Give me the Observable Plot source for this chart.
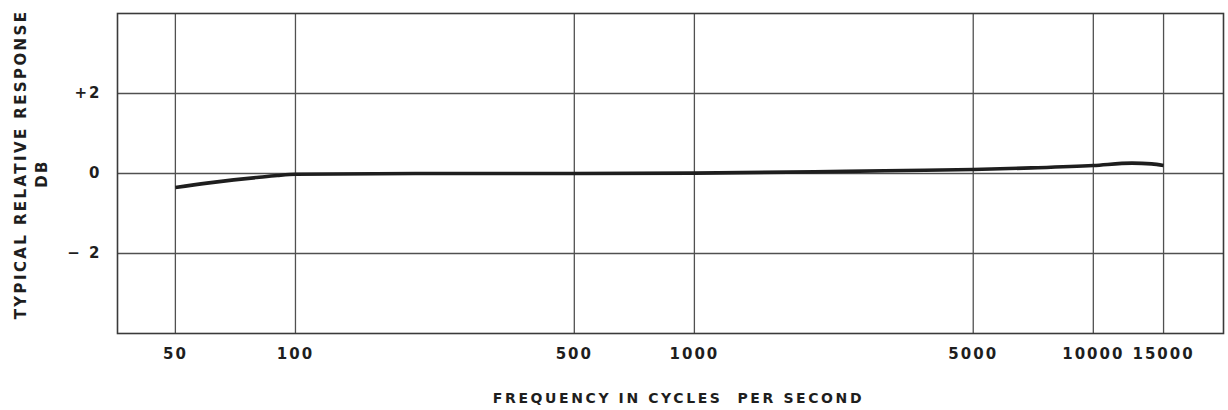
<!DOCTYPE html>
<html>
<head>
<meta charset="utf-8">
<script src="https://cdn.jsdelivr.net/npm/d3@7"></script>
<script src="https://cdn.jsdelivr.net/npm/@observablehq/plot@0.6"></script>
<style>
  html, body { margin: 0; padding: 0; background: #fff; }
  .chart { font-family: "DejaVu Sans", sans-serif; }
  .chart g[aria-label="x-axis tick label"] text { letter-spacing: 2px; }
  .chart g[aria-label="y-axis tick label"] text { letter-spacing: 2px; }
  .chart .lbl text { letter-spacing: 2.6px; }
  .chart .ylbl text { letter-spacing: 2.4px; }
</style>
</head>
<body>
<div id="chart"></div>
<script>
// Frequency (Hz) and typical relative response (dB)
const freq     = [50, 60, 70, 80, 90, 100, 200, 500, 1000, 2000, 3000, 5000, 7000, 10000, 12500, 14000, 15000];
const response = [-0.35, -0.24, -0.16, -0.1, -0.05, -0.02, 0, 0, 0.01, 0.04, 0.07, 0.1, 0.14, 0.2, 0.26, 0.24, 0.2];

const xTicks = [50, 100, 500, 1000, 5000, 10000, 15000];
const yTicks = [-2, 0, 2];
const yTickLabels = ["\u2212 2", "0", "+2"];

const xTitle = "FREQUENCY IN CYCLES  PER SECOND";
const yTitle = "TYPICAL RELATIVE RESPONSE";
const yUnit = "DB";

const data = freq.map((f, i) => ({f, r: response[i]}));

const ink = "#1e1e1e";
const gridColor = "#505050";

const chart = Plot.plot({
  width: 1228,
  height: 410,
  marginLeft: 117,
  marginRight: 5,
  marginTop: 13,
  marginBottom: 77,
  className: "chart",
  style: {background: "#fff", color: ink, fontFamily: "DejaVu Sans, sans-serif"},
  x: {type: "log", domain: [35.8, 21200]},
  y: {domain: [-4, 4]},
  marks: [
    Plot.gridX(xTicks, {stroke: gridColor, strokeOpacity: 1, strokeWidth: 1.3}),
    Plot.gridY(yTicks, {stroke: gridColor, strokeOpacity: 1, strokeWidth: 1.3}),
    Plot.frame({stroke: "#3a3a3a", strokeWidth: 1.6}),
    Plot.axisX(xTicks, {tickSize: 0, tickPadding: 15, label: null, fontSize: 15, fontWeight: "bold", fill: ink,
      tickFormat: d => String(d)}),
    Plot.axisY(yTicks, {tickSize: 0, tickPadding: 16, label: null, fontSize: 15, fontWeight: "bold", fill: ink,
      tickFormat: d => yTickLabels[yTicks.indexOf(d)]}),
    Plot.line(data, {x: "f", y: "r", curve: "monotone-x", stroke: ink, strokeWidth: 3.6, strokeLinecap: "butt"}),
    Plot.text([xTitle], {frameAnchor: "bottom", textAnchor: "middle", lineAnchor: "middle", dx: 8, dy: 65,
      text: d => d, fontSize: 14, fontWeight: "bold", fill: ink, className: "lbl"}),
    Plot.text([yTitle], {frameAnchor: "left", textAnchor: "middle", lineAnchor: "middle", rotate: -90, dx: -96, dy: -9,
      text: d => d, fontSize: 15, fontWeight: "bold", fill: ink, className: "ylbl"}),
    Plot.text([yUnit], {frameAnchor: "left", textAnchor: "middle", lineAnchor: "middle", rotate: -90, dx: -75, dy: 0,
      text: d => d, fontSize: 15, fontWeight: "bold", fill: ink, className: "ylbl"})
  ]
});
document.getElementById("chart").appendChild(chart);
</script>
</body>
</html>
